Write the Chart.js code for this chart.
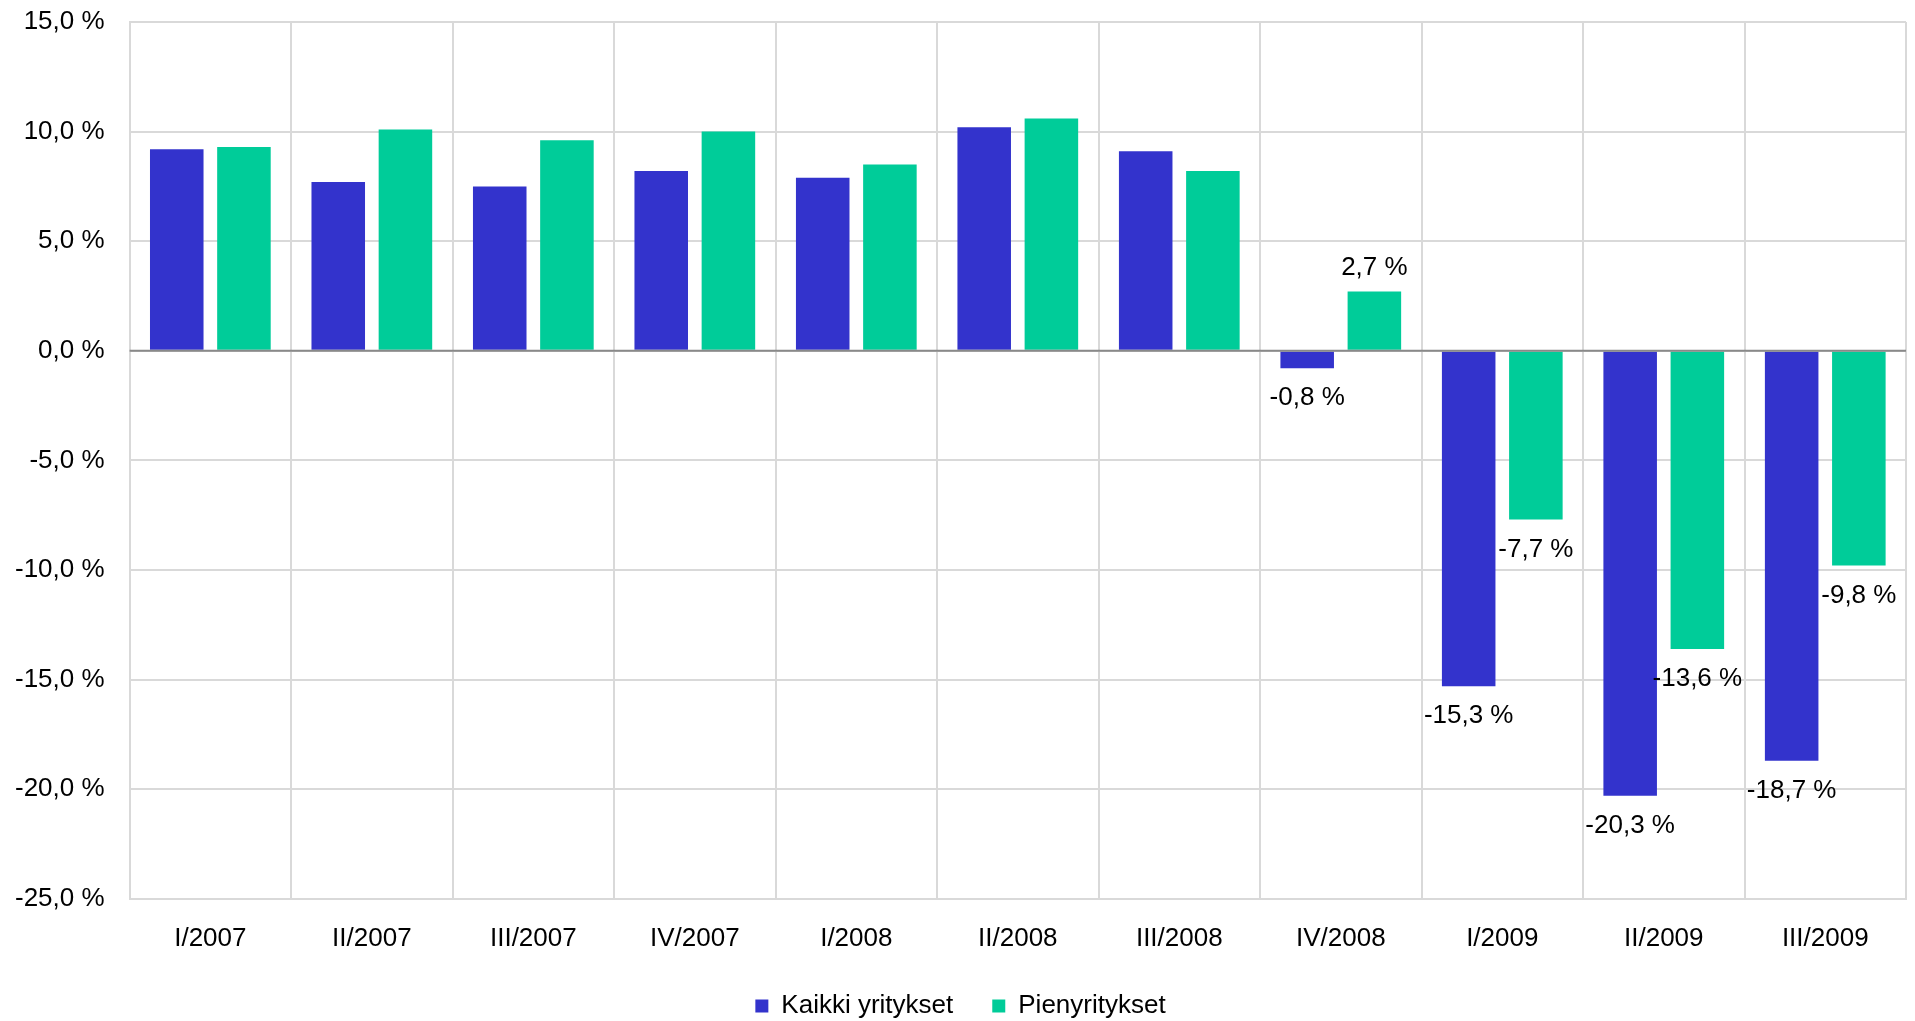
<html lang="fi">
<head>
    <meta charset="UTF-8">
    <title>Kaikki yritykset / Pienyritykset</title>
    <style>
        body { margin: 0; background: #ffffff; }
        #wrap { width: 1915px; height: 1021px; }
    </style>
</head>
<body>
<div id="wrap">
    <canvas id="myChart" width="1915" height="1021"></canvas>
</div>

<script src="https://cdn.jsdelivr.net/npm/chart.js"></script>
<script>
// data luettu kuvasta
const quarters = ['I/2007', 'II/2007', 'III/2007', 'IV/2007', 'I/2008', 'II/2008', 'III/2008', 'IV/2008', 'I/2009', 'II/2009', 'III/2009'];
const kaikkiYritykset = [9.2, 7.7, 7.5, 8.2, 7.9, 10.2, 9.1, -0.8, -15.3, -20.3, -18.7];
const pienyritykset = [9.3, 10.1, 9.6, 10.0, 8.5, 10.6, 8.2, 2.7, -7.7, -13.6, -9.8];
const seriesNames = ['Kaikki yritykset', 'Pienyritykset'];
const labelledQuarters = ['IV/2008', 'I/2009', 'II/2009', 'III/2009'];
const yTicks = [-25, -20, -15, -10, -5, 0, 5, 10, 15];

const FONT = '"Liberation Sans", Arial, sans-serif';

function fmt(v) {
    return v.toFixed(1).replace('.', ',') + ' %';
}

// arvot palkkien päihin + nollaviiva palkkien päälle
const valueLabels = {
    id: 'valueLabels',
    afterDatasetsDraw(chart) {
        const ctx = chart.ctx;
        const y = chart.scales.y;
        const area = chart.chartArea;
        ctx.save();
        ctx.strokeStyle = '#898989';
        ctx.lineWidth = 2;
        ctx.beginPath();
        ctx.moveTo(area.left, y.getPixelForValue(0));
        ctx.lineTo(area.right, y.getPixelForValue(0));
        ctx.stroke();

        ctx.font = '26px ' + FONT;
        ctx.fillStyle = '#000000';
        ctx.textAlign = 'center';
        ctx.textBaseline = 'alphabetic';
        chart.data.datasets.forEach((ds, di) => {
            const meta = chart.getDatasetMeta(di);
            meta.data.forEach((bar, i) => {
                if (!labelledQuarters.includes(quarters[i])) return;
                const v = ds.data[i];
                const ty = v < 0 ? bar.y + 37 : bar.y - 17;
                ctx.fillText(fmt(v), bar.x, ty);
            });
        });
        ctx.restore();
    }
};

const ctx = document.getElementById('myChart').getContext('2d');
const myChart = new Chart(ctx, {
    type: 'bar',
    data: {
        labels: quarters,
        datasets: [{
            label: seriesNames[0],
            data: kaikkiYritykset,
            backgroundColor: '#3333CC',
            borderWidth: 0
        }, {
            label: seriesNames[1],
            data: pienyritykset,
            backgroundColor: '#00CC99',
            borderWidth: 0
        }]
    },
    options: {
        responsive: false,
        animation: false,
        devicePixelRatio: 1,
        layout: {
            padding: { left: 15, right: 9, top: 22, bottom: -8 }
        },
        datasets: {
            bar: {
                categoryPercentage: 0.832,
                barPercentage: 0.797
            }
        },
        scales: {
            x: {
                grid: {
                    color: '#d9d9d9',
                    lineWidth: 2,
                    drawTicks: true,
                    tickLength: 24,
                    tickColor: 'rgba(0,0,0,0)',
                    offset: true
                },
                border: { color: '#d9d9d9', width: 2 },
                ticks: {
                    color: '#000000',
                    font: { family: FONT, size: 26 },
                    padding: 0,
                    maxRotation: 0,
                    autoSkip: false
                }
            },
            y: {
                min: -25,
                max: 15,
                afterBuildTicks(scale) {
                    scale.ticks = yTicks.map(v => ({ value: v }));
                },
                grid: {
                    color: '#d9d9d9',
                    lineWidth: 2,
                    drawTicks: true,
                    tickLength: 25,
                    tickColor: 'rgba(0,0,0,0)'
                },
                border: { color: '#d9d9d9', width: 2 },
                ticks: {
                    color: '#000000',
                    font: { family: FONT, size: 26 },
                    padding: 0,
                    callback: v => fmt(v)
                }
            }
        },
        plugins: {
            legend: {
                position: 'bottom',
                labels: {
                    color: '#000000',
                    font: { family: FONT, size: 26 },
                    boxWidth: 13,
                    boxHeight: 13,
                    padding: 39
                }
            },
            tooltip: { enabled: false }
        }
    },
    plugins: [valueLabels]
});
</script>
</body>
</html>
